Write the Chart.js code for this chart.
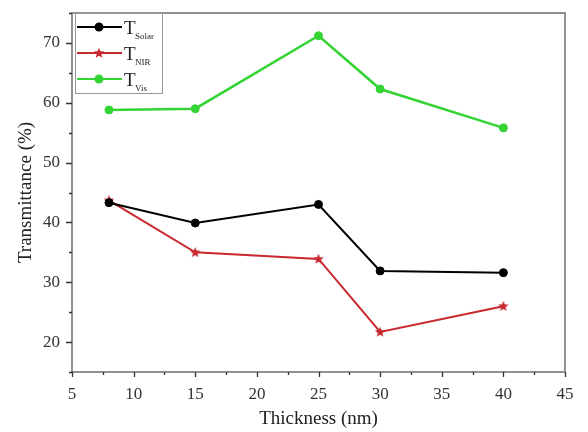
<!DOCTYPE html>
<html>
<head>
<meta charset="utf-8">
<script src="https://cdn.jsdelivr.net/npm/chart.js@4.4.1/dist/chart.umd.min.js"></script>
<style>
  html, body { margin: 0; padding: 0; background: #fff; }
  #wrap { width: 588px; height: 432px; }
</style>
</head>
<body>
<div id="wrap"><canvas id="c" width="588" height="432"></canvas></div>
<script>
// data
const thickness = [8, 15, 25, 30, 40];
const tSolar = [43.3, 39.9, 43.0, 31.9, 31.6];
const tNIR = [43.7, 35.0, 33.9, 21.7, 26.0];
const tVis = [58.8, 59.0, 71.2, 62.3, 55.8];
const xTickVals = [5, 10, 15, 20, 25, 30, 35, 40, 45];
const yTickVals = [20, 30, 40, 50, 60, 70];

const RED = '#c8282e', GREEN = '#35d435', BLACK = '#000';
const SERIF = '"Liberation Serif", "DejaVu Serif", serif';

// small filled star used as the NIR marker
function makeStar(color) {
  const s = document.createElement('canvas');
  s.width = 12; s.height = 12;
  const g = s.getContext('2d');
  g.fillStyle = color;
  g.beginPath();
  for (let i = 0; i < 10; i++) {
    const r = i % 2 === 0 ? 5.5 : 2.4;
    const a = -Math.PI / 2 + i * Math.PI / 5;
    const px = 6 + r * Math.cos(a), py = 6.3 + r * Math.sin(a);
    i === 0 ? g.moveTo(px, py) : g.lineTo(px, py);
  }
  g.closePath();
  g.fill();
  return s;
}
const starImg = makeStar(RED);

const toPts = ys => thickness.map((x, i) => ({ x, y: ys[i] }));

// frame + major/minor ticks
const framePlugin = {
  id: 'frame',
  afterDraw(chart) {
    const { ctx, chartArea: a, scales: { x, y } } = chart;
    ctx.save();
    ctx.strokeStyle = '#777';
    ctx.lineWidth = 1.6;
    ctx.strokeRect(a.left, a.top, a.right - a.left, a.bottom - a.top);
    ctx.strokeStyle = '#333';
    ctx.lineWidth = 1.3;
    ctx.beginPath();
    for (let v = 5; v <= 45.001; v += 2.5) {
      const px = Math.round(x.getPixelForValue(v)) + 0.5;
      const len = (v % 5 === 0) ? 5 : 3;
      ctx.moveTo(px, a.bottom); ctx.lineTo(px, a.bottom + len);
    }
    for (let v = 15; v <= 75.001; v += 5) {
      const py = Math.round(y.getPixelForValue(v)) + 0.5;
      const len = (v % 10 === 0) ? 6 : 3;
      ctx.moveTo(a.left, py); ctx.lineTo(a.left - len, py);
    }
    ctx.stroke();
    ctx.restore();
  }
};

// legend box with subscripted labels, inside the plot
const legendPlugin = {
  id: 'subLegend',
  afterDraw(chart) {
    const { ctx, chartArea: a } = chart;
    const left = a.left + 3, top = a.top;
    const entries = [
      { sub: 'Solar', color: BLACK, marker: 'circle' },
      { sub: 'NIR', color: RED, marker: 'star' },
      { sub: 'Vis', color: GREEN, marker: 'circle' }
    ];
    ctx.save();
    ctx.fillStyle = '#fff';
    ctx.fillRect(left, top, 87, 80);
    ctx.strokeStyle = '#999';
    ctx.lineWidth = 1;
    ctx.strokeRect(left + 0.5, top + 0.5, 87, 80);
    entries.forEach((e, i) => {
      const cy = top + 14 + i * 26;
      ctx.strokeStyle = e.color;
      ctx.lineWidth = 2;
      ctx.beginPath();
      ctx.moveTo(left + 2, cy); ctx.lineTo(left + 47, cy);
      ctx.stroke();
      if (e.marker === 'circle') {
        ctx.fillStyle = e.color;
        ctx.beginPath(); ctx.arc(left + 24, cy, 4.5, 0, Math.PI * 2); ctx.fill();
      } else {
        ctx.drawImage(starImg, left + 24 - 6, cy - 6);
      }
      ctx.fillStyle = '#222';
      ctx.textBaseline = 'alphabetic';
      ctx.font = '19px ' + SERIF;
      ctx.fillText('T', left + 49, cy + 7);
      ctx.font = '9px ' + SERIF;
      ctx.fillText(e.sub, left + 60, cy + 12);
    });
    ctx.restore();
  }
};

new Chart(document.getElementById('c'), {
  type: 'line',
  data: {
    datasets: [
      { label: 'T Solar', data: toPts(tSolar), borderColor: BLACK, backgroundColor: BLACK,
        borderWidth: 2, pointRadius: 4, pointBorderWidth: 1, pointStyle: 'circle', tension: 0 },
      { label: 'T NIR', data: toPts(tNIR), borderColor: RED, backgroundColor: RED,
        borderWidth: 2, pointStyle: starImg, tension: 0 },
      { label: 'T Vis', data: toPts(tVis), borderColor: GREEN, backgroundColor: GREEN,
        borderWidth: 2.6, pointRadius: 4, pointBorderWidth: 1, pointStyle: 'circle', tension: 0 }
    ]
  },
  options: {
    responsive: false,
    animation: false,
    devicePixelRatio: 1,
    layout: { padding: { top: 13, right: 23, left: 0, bottom: 0 } },
    plugins: { legend: { display: false }, tooltip: { enabled: false } },
    scales: {
      x: {
        type: 'linear', min: 5, max: 45,
        afterBuildTicks: s => { s.ticks = xTickVals.map(v => ({ value: v })); },
        afterFit: s => { s.height = 60; s.paddingLeft = 0; s.paddingRight = 0; },
        grid: { display: false, drawTicks: false },
        border: { display: false },
        ticks: { color: '#333', padding: 12, font: { family: SERIF, size: 17 } },
        title: { display: true, text: 'Thickness (nm)', color: '#222',
                 font: { family: SERIF, size: 19 }, padding: { top: 0, bottom: 2 } }
      },
      y: {
        min: 15, max: 75,
        afterBuildTicks: s => { s.ticks = yTickVals.map(v => ({ value: v })); },
        afterFit: s => { s.width = 72; s.paddingTop = 0; s.paddingBottom = 0; },
        grid: { display: false, drawTicks: false },
        border: { display: false },
        ticks: { color: '#333', padding: 12, font: { family: SERIF, size: 17 } },
        title: { display: true, text: 'Transmittance (%)', color: '#222',
                 font: { family: SERIF, size: 19 }, padding: { top: 15, bottom: 0 } }
      }
    }
  },
  plugins: [framePlugin, legendPlugin]
});
</script>
</body>
</html>
